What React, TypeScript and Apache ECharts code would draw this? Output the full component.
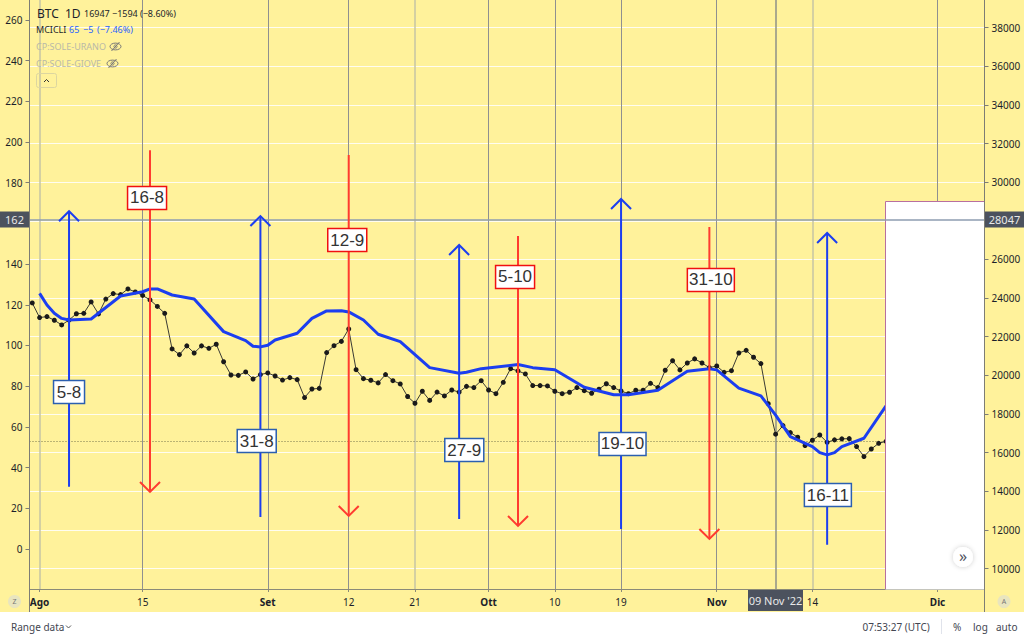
import React, { useEffect, useRef } from "react";
import * as echarts from "echarts";

// All days are counted from 1 August 2022 (day 0).
const blackValues = [120.9, 113.7, 114.2, 112.4, 110.1, 112.5, 115.6, 115.8, 121.4, 115.5, 122.8, 125.5, 125, 127.8, 126.3, 124.6, 122.4, 119.2, 115.8, 98.3, 95.5, 99.8, 96.3, 99.8, 98.6, 100.6, 92, 85.5, 85.3, 87, 83.5, 85.7, 86.5, 85, 83, 84.2, 83.2, 74.4, 78.6, 78.9, 96.5, 99.9, 102, 108.1, 88.1, 83.7, 82.9, 81.6, 85.7, 82.7, 81.1, 74.9, 71.6, 77.5, 73, 77.1, 75.2, 78.1, 77.1, 79.9, 79.3, 82.7, 78.1, 76.3, 81.9, 88.6, 87.5, 86, 80.3, 80.3, 80.1, 77.5, 76.3, 77, 79.3, 77.8, 76.5, 78.5, 81.2, 79.3, 77.6, 76.3, 78, 78, 81.4, 79.3, 87.8, 92.5, 88, 91.4, 93.4, 91.4, 89.1, 89.9, 86.8, 87.6, 96.3, 97.6, 94.2, 91.1, 71.4, 56.4, 60.6, 57.2, 54.9, 50.8, 53.4, 56, 52.4, 53.6, 54.1, 54.2, 50.3, 45.4, 49.1, 51.9, 52.9];
const blackFirstDay = -1;

const blueDays = [0, 1, 2, 3, 4, 7, 11, 14, 15, 16, 18, 21, 25, 28, 29, 30, 31, 32, 35, 37, 39, 41, 42, 44, 46, 49, 53, 57, 58, 60, 65, 67, 70, 74, 78, 80, 84, 88, 91, 92, 95, 98, 100, 102, 105, 106, 107, 108, 109, 112, 115];
const blueValues = [125.6, 119.9, 115.8, 113.3, 112.5, 113, 124.3, 126.4, 127.8, 127.8, 124.8, 122.8, 106.8, 102.4, 99.6, 99.3, 100.1, 102.7, 106, 113.3, 117, 117.1, 116.5, 112.5, 105.5, 101.9, 89.1, 86.3, 86.8, 88.6, 90.6, 89.1, 88.1, 79.5, 75.8, 75.8, 78, 87.3, 88.5, 88, 79, 75.2, 65.8, 55.2, 50.3, 47.3, 46.2, 47.3, 50.3, 54.4, 70.3];

const arrowLabels = ["5-8", "16-8", "31-8", "12-9", "27-9", "5-10", "19-10", "31-10", "16-11"];
const arrowDays = [4, 15, 30, 42, 57, 65, 79, 91, 107];
const arrowTails = [30.5, 196, 15.7, 193.6, 14.7, 153.8, 9.8, 158.2, 2];
const arrowTips = [166, 28, 163.6, 16.2, 149.4, 11.3, 172, 4.9, 155.3];
const arrowLabelDays = [4, 14.6, 29.5, 41.8, 57.7, 64.6, 79.2, 91.2, 107.1];
const arrowLabelValues = [77.1, 172.5, 53, 151.8, 48.6, 133.7, 51.6, 132.2, 26.5];

const leftTicks = [0, 20, 40, 60, 80, 100, 120, 140, 180, 200, 220, 240, 260];
const rightTicks = [10000, 12000, 14000, 16000, 18000, 20000, 22000, 24000, 26000, 30000, 32000, 34000, 36000, 38000];
const rightGrid = [10000, 12000, 14000, 16000, 18000, 20000, 22000, 24000, 26000, 28000, 30000, 32000, 34000, 36000, 38000];

const timeDays = [0, 14, 31, 42, 51, 61, 70, 79, 92, 105, 122];
const timeLabels = ["Ago", "15", "Set", "12", "21", "Ott", "10", "19", "Nov", "14", "Dic"];
const softDays = [0, 51, 105];
const crossDay = 100;
const crossValue = 162;
const lastValue = 53;

const YELLOW = "#fff29b";
const FONT = '"Noto Sans", sans-serif';
const INK = "#1c1f2a";
const BLUE = "#1c3ef0";
const RED = "#ff3b30";

const eye = (x: number, y: number) => ({
  type: "group", x, y, z: 20,
  children: [
    { type: "ellipse", z: 20, shape: { cx: 0, cy: 0, rx: 5.5, ry: 3.4 }, style: { fill: "none", stroke: "#777", lineWidth: 1 } },
    { type: "circle", z: 20, shape: { cx: 0, cy: 0, r: 1.6 }, style: { fill: "none", stroke: "#777", lineWidth: 1 } },
    { type: "line", z: 20, shape: { x1: -4, y1: 4.5, x2: 4, y2: -4.5 }, style: { stroke: "#777", lineWidth: 1 } },
  ],
});

const txt = (text: string, x: number, y: number, size: number, fill: string, extra: any = {}) => ({
  type: "text", x, y, z: 20,
  style: { text, fontSize: size, fontFamily: FONT, fill, verticalAlign: "middle", ...extra },
});

const darkBox = (x: number, y: number, w: number, h: number, text: string) => [
  { type: "rect", z: 19, shape: { x, y, width: w, height: h }, style: { fill: "#4c525e" } },
  txt(text, x + w / 2, y + h / 2, 11, "#e8e8e8", { align: "center" }),
];

const chrome: any[] = [
  { type: "rect", z: -5, shape: { x: 0, y: 0, width: 1024, height: 612 }, style: { fill: YELLOW } },
  { type: "rect", z: 5, shape: { x: 885.5, y: 201.5, width: 98.5, height: 388 }, style: { fill: "#fff" } },
  { type: "polyline", z: 5, shape: { points: [[885.5, 589], [885.5, 201.5], [984, 201.5]] }, style: { fill: "none", stroke: "#b86fa0", lineWidth: 1 } },
  { type: "line", z: 9, shape: { x1: 29.5, y1: 0, x2: 29.5, y2: 612 }, style: { stroke: "#7d7d75", lineWidth: 1 } },
  { type: "line", z: 9, shape: { x1: 984.5, y1: 0, x2: 984.5, y2: 612 }, style: { stroke: "#7d7d75", lineWidth: 1 } },
  txt("BTC", 37, 13, 12, INK),
  txt("1D", 65, 13, 12, INK),
  txt("16947", 84, 13.5, 9, INK),
  txt("−1594", 112, 13.5, 9, INK),
  txt("(−8.60%)", 140, 13.5, 9, INK),
  txt("MCICLI", 36, 29.5, 9, INK),
  txt("65", 69, 29.5, 9, "#2962ff"),
  txt("−5", 83, 29.5, 9, "#2962ff"),
  txt("(−7.46%)", 97, 29.5, 9, "#2962ff"),
  txt("CP:SOLE-URANO", 36, 46.5, 9, "#b9b9a8"),
  eye(115.5, 46.5),
  txt("CP:SOLE-GIOVE", 36, 63.5, 9, "#b9b9a8"),
  eye(112.5, 63.5),
  { type: "rect", z: 20, shape: { x: 36.5, y: 73.5, width: 20, height: 14, r: 2 }, style: { fill: "none", stroke: "#dcd6a0", lineWidth: 1 } },
  { type: "polyline", z: 20, shape: { points: [[44, 82], [46.5, 79.5], [49, 82]] }, style: { fill: "none", stroke: "#333", lineWidth: 1 } },
  { type: "circle", z: 20, shape: { cx: 14.5, cy: 601.5, r: 6.5 }, style: { fill: "#e9e5bf" } },
  txt("Z", 14.5, 601.5, 7, "#777", { align: "center" }),
  { type: "circle", z: 20, shape: { cx: 1004, cy: 601.5, r: 6.5 }, style: { fill: "#e9e5bf" } },
  txt("A", 1004, 601.5, 7, "#777", { align: "center" }),
  { type: "circle", z: 20, shape: { cx: 963, cy: 557, r: 10 }, style: { fill: "#fff", shadowColor: "rgba(0,0,0,0.2)", shadowBlur: 5 } },
  txt("»", 963, 555.5, 16, "#50535e", { align: "center" }),
  ...darkBox(0, 211.5, 29, 16, "162"),
  ...darkBox(985, 211.5, 39, 16, "28047"),
  ...darkBox(748, 590, 55, 21, "09 Nov '22"),
  txt("Range data", 11, 626.5, 10, "#434651"),
  { type: "polyline", z: 20, shape: { points: [[66, 625.5], [68.5, 628], [71, 625.5]] }, style: { fill: "none", stroke: "#555", lineWidth: 1 } },
  txt("07:53:27 (UTC)", 862.5, 626.5, 10, "#434651"),
  { type: "line", z: 20, shape: { x1: 941.5, y1: 619, x2: 941.5, y2: 634 }, style: { stroke: "#e0e3eb", lineWidth: 1 } },
  txt("%", 953, 626.5, 10, "#434651"),
  txt("log", 973, 626.5, 10, "#434651"),
  txt("auto", 996, 626.5, 10, "#434651"),
];

const vLine = (day: number) => ({
  xAxis: day,
  lineStyle: softDays.includes(day)
    ? { color: "#c6c4a4", width: 1.5, type: "solid" }
    : day === crossDay
      ? { color: "#8e9088", width: 1.5, type: "solid" }
      : { color: "#8f9090", width: 1, type: "solid" },
});

const marks = (z: number, data: any[]) => ({
  silent: true,
  symbol: "none",
  z,
  label: { show: false },
  animation: false,
  data,
});

export default function App() {
  const ref = useRef<HTMLDivElement>(null);
  useEffect(() => {
    const chart = echarts.init(ref.current!, undefined, { renderer: "svg" });
    const labelColor = (i: number) => (arrowTips[i] > arrowTails[i] ? BLUE : RED);
    chart.setOption({
      animation: false,
      backgroundColor: "#fff",
      graphic: chrome,
      grid: { left: 29.5, right: 39.5, top: 0, height: 589, containLabel: false },
      xAxis: {
        type: "value",
        min: -1.372,
        max: 128.38,
        splitLine: { show: false },
        axisLine: { show: true, onZero: false, lineStyle: { color: "#8a8a78", width: 1 } },
        axisTick: { show: true, length: 3, customValues: timeDays, lineStyle: { color: "#8a8a78" } },
        axisLabel: {
          customValues: timeDays,
          margin: 8,
          fontFamily: FONT,
          fontSize: 10,
          color: INK,
          formatter: (v: number) => {
            const s = timeLabels[timeDays.indexOf(v)] ?? "";
            return /[A-Z]/.test(s) ? `{b|${s}}` : s;
          },
          rich: { b: { fontWeight: "bold", fontFamily: FONT, fontSize: 10, color: INK } },
        },
      },
      yAxis: [
        {
          type: "value",
          position: "left",
          min: -19.7,
          max: 269.8,
          splitLine: { show: false },
          axisLine: { show: false, onZero: false },
          axisTick: { show: true, length: 4, customValues: leftTicks, lineStyle: { color: "#7d7d75" } },
          axisLabel: { customValues: leftTicks, margin: 7, fontFamily: FONT, fontSize: 10, color: INK },
        },
        {
          type: "value",
          position: "right",
          min: 8939,
          max: 39434,
          splitLine: { show: false },
          axisLine: { show: false, onZero: false },
          axisTick: { show: true, length: 4, customValues: rightTicks, lineStyle: { color: "#7d7d75" } },
          axisLabel: { customValues: rightTicks, margin: 7, fontFamily: FONT, fontSize: 10, color: INK, formatter: (v: number) => String(v) },
        },
      ],
      series: [
        {
          name: "griglia",
          type: "line",
          yAxisIndex: 1,
          z: 1,
          data: [],
          markLine: marks(1, rightGrid.map((v) => ({ yAxis: v, lineStyle: { color: "#ffffff", width: 1, type: "solid", opacity: 0.85 } }))),
        },
        {
          name: "verticali",
          type: "line",
          z: 2,
          data: [],
          markLine: marks(2, [...timeDays, crossDay].map(vLine)),
        },
        {
          name: "ultimo",
          type: "line",
          z: 2,
          data: [],
          markLine: marks(2, [{ yAxis: lastValue, lineStyle: { color: "#77774c", width: 1, type: [1, 2] } }]),
        },
        {
          name: "BTC",
          type: "line",
          z: 3,
          symbol: "circle",
          symbolSize: 5,
          lineStyle: { color: "#3a3a34", width: 1 },
          itemStyle: { color: "#1a1a1a" },
          data: blackValues.map((v, i) => [blackFirstDay + i, v]),
        },
        {
          name: "MCICLI",
          type: "line",
          z: 4,
          symbol: "none",
          lineStyle: { color: BLUE, width: 3, join: "round" },
          data: blueValues.map((v, i) => [blueDays[i], v]),
        },
        {
          name: "croce",
          type: "line",
          z: 6,
          data: [],
          markLine: marks(6, [{ yAxis: crossValue, lineStyle: { color: "#8e9cb0", width: 1.5, type: "solid" } }]),
        },
        {
          name: "frecce",
          type: "custom",
          z: 7,
          clip: false,
          encode: { x: 0, y: [1, 2] },
          data: arrowDays.map((d, i) => [d, arrowTails[i], arrowTips[i], arrowLabelDays[i], arrowLabelValues[i], i]),
          renderItem: (_p: any, api: any) => {
            const i = api.value(5);
            const [x, yTail] = api.coord([api.value(0), api.value(1)]);
            const [, yTip] = api.coord([api.value(0), api.value(2)]);
            const [lx, ly] = api.coord([api.value(3), api.value(4)]);
            const c = labelColor(i);
            const dir = yTip < yTail ? 1 : -1;
            const text = arrowLabels[i];
            const w = text.length >= 5 ? 47 : text.length === 4 ? 39 : 31;
            const h = 23;
            return {
              type: "group",
              children: [
                { type: "line", shape: { x1: x, y1: yTail, x2: x, y2: yTip }, style: { stroke: c, lineWidth: 2 } },
                { type: "polyline", shape: { points: [[x - 10, yTip + dir * 10], [x, yTip], [x + 10, yTip + dir * 10]] }, style: { fill: "none", stroke: c, lineWidth: 2 } },
                { type: "rect", shape: { x: lx - w / 2, y: ly - h / 2, width: w, height: h }, style: { fill: "#fff", stroke: dir > 0 ? "#2b5fb0" : "#f01010", lineWidth: 1.5 } },
                { type: "text", x: lx, y: ly, style: { text, fill: "#333", fontFamily: '"Liberation Sans", sans-serif', fontSize: 17, align: "center", verticalAlign: "middle" } },
              ],
            };
          },
        },
      ],
    });
    return () => chart.dispose();
  }, []);
  return <div ref={ref} style={{ position: "fixed", left: 0, top: 0, width: 1024, height: 640 }} />;
}
